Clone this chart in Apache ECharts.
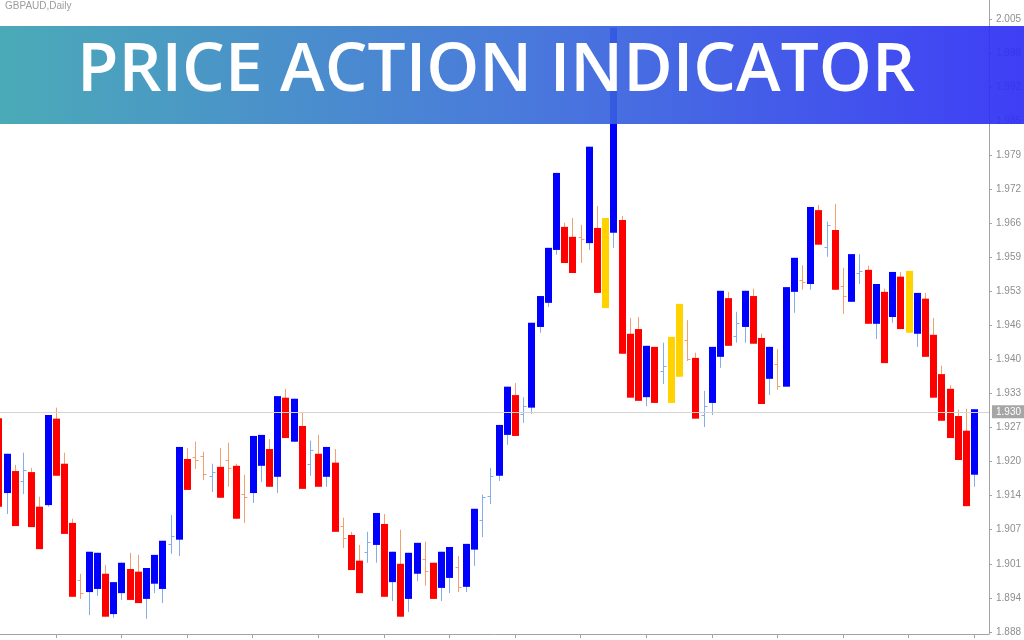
<!DOCTYPE html>
<html>
<head>
<meta charset="utf-8">
<title>GBPAUD Daily - Price Action Indicator</title>
<script src="https://cdn.jsdelivr.net/npm/echarts@6/dist/echarts.min.js"></script>
<style>
  html, body { margin: 0; padding: 0; background: #fff; }
  #chart { width: 1024px; height: 640px; }
</style>
</head>
<body>
<div id="chart"></div>
<script>
// GBPAUD daily bars, oldest first. The first bar is cut by the left edge.
var opens = [
  1.9288, 1.9145, 1.9187, 1.9168, 1.9185, 1.9119, 1.9122, 1.9287, 1.9201, 1.9088,
  1.8979, 1.8956, 1.8962, 1.8991, 1.8914, 1.8954, 1.9000, 1.8995, 1.8943, 1.8972,
  1.8962, 1.9048, 1.9056, 1.9210, 1.9214, 1.9216, 1.9178, 1.9195, 1.9208, 1.9197,
  1.9143, 1.9145, 1.9197, 1.9229, 1.9176, 1.9327, 1.9243, 1.9273, 1.9201, 1.9220,
  1.9176, 1.9203, 1.9082, 1.9065, 1.9016, 1.9033, 1.9046, 1.9086, 1.8975, 1.9010,
  1.8943, 1.8991, 1.9019, 1.9012, 1.8964, 1.8983, 1.9004, 1.8966, 1.9037, 1.9094,
  1.9140, 1.9178, 1.9256, 1.9332, 1.9296, 1.9308, 1.9462, 1.9508, 1.9609, 1.9653,
  1.9634, 1.9634, 1.9622, 1.9651, 1.9670, 1.9642, 1.9666, 1.9449, 1.9458, 1.9328,
  1.9424, 1.9378, 1.9317, 1.9367, 1.9437, 1.9403, 1.9294, 1.9317, 1.9405, 1.9517,
  1.9445, 1.9462, 1.9521, 1.9441, 1.9363, 1.9392, 1.9348, 1.9529, 1.9552, 1.9544,
  1.9685, 1.9615, 1.9647, 1.9540, 1.9510, 1.9565, 1.9571, 1.9468, 1.9529, 1.9481,
  1.9558, 1.9569, 1.9449, 1.9516, 1.9447, 1.9372, 1.9344, 1.9292, 1.9264, 1.9180
];
var highs = [
  1.9290, 1.9220, 1.9199, 1.9222, 1.9193, 1.9138, 1.9294, 1.9308, 1.9222, 1.9096,
  1.8991, 1.9033, 1.9031, 1.9008, 1.8975, 1.9012, 1.9031, 1.9027, 1.9002, 1.9027,
  1.9054, 1.9103, 1.9233, 1.9231, 1.9243, 1.9224, 1.9201, 1.9231, 1.9241, 1.9201,
  1.9180, 1.9254, 1.9256, 1.9248, 1.9330, 1.9344, 1.9325, 1.9300, 1.9245, 1.9256,
  1.9233, 1.9229, 1.9098, 1.9071, 1.9046, 1.9071, 1.9107, 1.9105, 1.9033, 1.9075,
  1.9031, 1.9050, 1.9052, 1.9012, 1.9033, 1.9042, 1.9025, 1.9048, 1.9115, 1.9142,
  1.9193, 1.9275, 1.9348, 1.9355, 1.9328, 1.9470, 1.9521, 1.9613, 1.9756, 1.9661,
  1.9670, 1.9657, 1.9806, 1.9693, 1.9670, 2.0033, 1.9674, 1.9479, 1.9481, 1.9426,
  1.9424, 1.9432, 1.9443, 1.9506, 1.9475, 1.9413, 1.9340, 1.9424, 1.9531, 1.9529,
  1.9491, 1.9531, 1.9535, 1.9449, 1.9424, 1.9420, 1.9538, 1.9594, 1.9580, 1.9691,
  1.9695, 1.9663, 1.9697, 1.9575, 1.9601, 1.9601, 1.9579, 1.9544, 1.9535, 1.9567,
  1.9567, 1.9569, 1.9527, 1.9527, 1.9479, 1.9388, 1.9351, 1.9304, 1.9306, 1.9305
];
var lows = [
  1.9119, 1.9105, 1.9082, 1.9143, 1.9080, 1.9038, 1.9119, 1.9178, 1.9067, 1.8947,
  1.8943, 1.8912, 1.8949, 1.8909, 1.8907, 1.8941, 1.8941, 1.8935, 1.8905, 1.8954,
  1.8935, 1.9029, 1.9025, 1.9151, 1.9191, 1.9170, 1.9147, 1.9136, 1.9157, 1.9096,
  1.9088, 1.9126, 1.9166, 1.9157, 1.9145, 1.9250, 1.9243, 1.9153, 1.9178, 1.9157,
  1.9157, 1.9071, 1.9040, 1.8998, 1.8954, 1.9012, 1.9012, 1.8947, 1.8939, 1.8909,
  1.8918, 1.8977, 1.8968, 1.8943, 1.8939, 1.8954, 1.8956, 1.8956, 1.9006, 1.9061,
  1.9124, 1.9168, 1.9237, 1.9254, 1.9279, 1.9296, 1.9451, 1.9500, 1.9600, 1.9584,
  1.9565, 1.9584, 1.9609, 1.9527, 1.9498, 1.9613, 1.9411, 1.9327, 1.9321, 1.9311,
  1.9317, 1.9353, 1.9317, 1.9367, 1.9397, 1.9287, 1.9271, 1.9294, 1.9384, 1.9426,
  1.9432, 1.9432, 1.9430, 1.9315, 1.9332, 1.9342, 1.9348, 1.9489, 1.9533, 1.9533,
  1.9619, 1.9596, 1.9533, 1.9487, 1.9510, 1.9544, 1.9468, 1.9439, 1.9393, 1.9470,
  1.9458, 1.9451, 1.9424, 1.9405, 1.9327, 1.9283, 1.9250, 1.9208, 1.9120, 1.9157
];
var closes = [
  1.9119, 1.9220, 1.9082, 1.9189, 1.9080, 1.9038, 1.9294, 1.9178, 1.9067, 1.8947,
  1.8954, 1.9033, 1.9031, 1.8909, 1.8975, 1.9012, 1.8941, 1.8935, 1.9002, 1.9027,
  1.9054, 1.9063, 1.9233, 1.9151, 1.9208, 1.9182, 1.9185, 1.9136, 1.9193, 1.9096,
  1.9138, 1.9254, 1.9256, 1.9157, 1.9330, 1.9250, 1.9325, 1.9153, 1.9227, 1.9157,
  1.9233, 1.9071, 1.9059, 1.8998, 1.8954, 1.9052, 1.9107, 1.8947, 1.9033, 1.8909,
  1.9031, 1.9050, 1.8996, 1.8943, 1.9033, 1.9042, 1.8966, 1.9048, 1.9115, 1.9138,
  1.9178, 1.9275, 1.9348, 1.9254, 1.9311, 1.9470, 1.9521, 1.9613, 1.9756, 1.9584,
  1.9565, 1.9630, 1.9806, 1.9527, 1.9498, 2.0033, 1.9411, 1.9327, 1.9321, 1.9426,
  1.9317, 1.9388, 1.9443, 1.9506, 1.9401, 1.9287, 1.9311, 1.9424, 1.9531, 1.9426,
  1.9470, 1.9531, 1.9430, 1.9315, 1.9424, 1.9349, 1.9538, 1.9594, 1.9548, 1.9691,
  1.9619, 1.9657, 1.9533, 1.9521, 1.9601, 1.9569, 1.9468, 1.9544, 1.9393, 1.9567,
  1.9458, 1.9451, 1.9527, 1.9405, 1.9327, 1.9283, 1.9250, 1.9208, 1.9120, 1.9305
];
// indicator output per bar: B bullish, R bearish, Y neutral, '' no signal (plain bar)
var signals = [
  'R', 'B', 'R', '', 'R', 'R', 'B', 'R', 'R', 'R',
  '', 'B', 'B', 'R', 'B', 'B', 'R', 'R', 'B', 'B',
  'B', '', 'B', 'R', '', '', '', 'R', '', 'R',
  '', 'B', 'B', 'R', 'B', 'R', 'B', 'R', '', 'R',
  'B', 'R', '', 'R', 'R', '', 'B', 'R', 'B', 'R',
  'B', 'B', '', 'R', 'B', 'B', '', 'B', 'B', '',
  '', 'B', 'B', 'R', '', 'B', 'B', 'B', 'B', 'R',
  'R', '', 'B', 'R', 'Y', 'B', 'R', 'R', 'R', 'B',
  'R', '', 'Y', 'Y', '', 'R', '', 'B', 'B', 'R',
  '', 'B', 'R', 'R', 'B', '', 'B', 'B', '', 'B',
  'R', '', 'R', '', 'B', '', 'R', 'B', 'R', 'B',
  'R', 'Y', 'B', 'R', 'R', 'R', 'R', 'R', 'R', 'B'
];
var priceTicks = [1.888, 1.8945, 1.901, 1.9075, 1.914, 1.9205, 1.927, 1.9335, 1.940, 1.9465,
  1.953, 1.9595, 1.966, 1.9725, 1.979, 1.9855, 1.992, 1.9985, 2.005];
var timeTicks = [6, 14, 22, 30, 38, 46, 54, 62, 70, 78, 86, 94, 102, 110, 118];
var lastPrice = 1.9305;
var symbolTitle = 'GBPAUD,Daily';
var bannerText = 'PRICE ACTION INDICATOR';

var bodyColor = { B: '#0000ff', R: '#ff0000', Y: '#ffd200' };
var wickColor = { B: '#86acec', R: '#f2a16e', Y: '#f6cf55' };
var barUp = '#86acec';
var barDown = '#f2a16e';
var labelFont = '"Liberation Sans", Arial, sans-serif';

var chart = echarts.init(document.getElementById('chart'));

var barData = opens.map(function (o, i) {
  return [i - 1, o, highs[i], lows[i], closes[i]];
});

function renderBar(params, api) {
  var kind = signals[params.dataIndex];
  var idx = api.value(0);
  var o = api.value(1), c = api.value(4);
  var pO = api.coord([idx, o]);
  var yC = api.coord([idx, c])[1];
  var yH = api.coord([idx, api.value(2)])[1];
  var yL = api.coord([idx, api.value(3)])[1];
  var cx = Math.round(pO[0]) + 0.5;
  var up = c >= o;
  var children = [{
    type: 'line',
    shape: { x1: cx, y1: yH, x2: cx, y2: yL },
    style: { stroke: kind ? wickColor[kind] : (up ? barUp : barDown), lineWidth: 1 }
  }];
  if (kind) {
    var top = Math.min(pO[1], yC);
    var h = Math.max(Math.abs(yC - pO[1]), 1);
    children.push({
      type: 'rect',
      shape: { x: Math.round(pO[0]) - 3, y: top, width: 7, height: h },
      style: { fill: bodyColor[kind] }
    });
  } else {
    var col = up ? barUp : barDown;
    var ty = Math.round(pO[1]) + 0.5, tc = Math.round(yC) + 0.5;
    children.push({ type: 'line', shape: { x1: cx - 3, y1: ty, x2: cx, y2: ty }, style: { stroke: col, lineWidth: 1 } });
    children.push({ type: 'line', shape: { x1: cx, y1: tc, x2: cx + 3, y2: tc }, style: { stroke: col, lineWidth: 1 } });
  }
  return { type: 'group', children: children };
}

var option = {
  animation: false,
  backgroundColor: '#ffffff',
  grid: { left: 0, right: 29, top: 0, bottom: 6 },
  xAxis: {
    type: 'value',
    min: -0.812,
    max: 119.79,
    axisLine: { show: true, onZero: false, lineStyle: { color: '#a3a3a3', width: 1 } },
    axisTick: { show: true, length: 4, customValues: timeTicks, lineStyle: { color: '#a3a3a3' } },
    axisLabel: { show: false },
    splitLine: { show: false }
  },
  yAxis: {
    type: 'value',
    position: 'right',
    min: 1.8876,
    max: 2.0086,
    axisLine: { show: true, onZero: false, lineStyle: { color: '#a3a3a3', width: 1 } },
    axisTick: { show: true, length: 3, customValues: priceTicks, lineStyle: { color: '#a3a3a3' } },
    axisLabel: {
      customValues: priceTicks,
      margin: 7,
      color: '#8e8e8e',
      fontSize: 10,
      fontFamily: labelFont,
      formatter: function (v) {
        return (Math.floor(v * 1000 + 1e-6) / 1000).toFixed(3);
      }
    },
    splitLine: { show: false }
  },
  series: [
    {
      type: 'custom',
      name: 'GBPAUD',
      clip: true,
      renderItem: renderBar,
      encode: { x: 0, y: [1, 2, 3, 4] },
      data: barData
    },
    {
      type: 'line',
      name: 'bid',
      data: [],
      silent: true,
      markLine: {
        silent: true,
        symbol: 'none',
        animation: false,
        lineStyle: { color: '#d4d4d4', type: 'solid', width: 1 },
        label: {
          position: 'end',
          distance: 3,
          color: '#ffffff',
          backgroundColor: '#a6a6a6',
          padding: [2, 4, 1, 4],
          fontSize: 10,
          fontFamily: labelFont,
          align: 'left',
          formatter: function (p) {
            return (Math.floor(p.value * 1000 + 1e-6) / 1000).toFixed(3);
          }
        },
        data: [{ yAxis: lastPrice }]
      }
    }
  ],
  graphic: [
    {
      type: 'text',
      x: 5,
      y: 1,
      style: { text: symbolTitle, fill: '#9c9c9c', font: '10px ' + labelFont }
    },
    {
      type: 'rect',
      x: 0,
      y: 26,
      z: 100,
      shape: { width: 1024, height: 98 },
      style: {
        fill: new echarts.graphic.LinearGradient(0, 0, 1, 0, [
          { offset: 0, color: '#3ba3b1' },
          { offset: 0.5, color: '#3a6fd8' },
          { offset: 1, color: '#2e2ef5' }
        ]),
        opacity: 0.92
      }
    },
    {
      type: 'text',
      x: 496,
      y: 72,
      z: 101,
      style: {
        text: bannerText,
        fill: '#ffffff',
        font: '600 67.5px "Open Sans", sans-serif',
        align: 'center',
        verticalAlign: 'middle'
      }
    }
  ]
};

chart.setOption(option);
</script>
</body>
</html>
